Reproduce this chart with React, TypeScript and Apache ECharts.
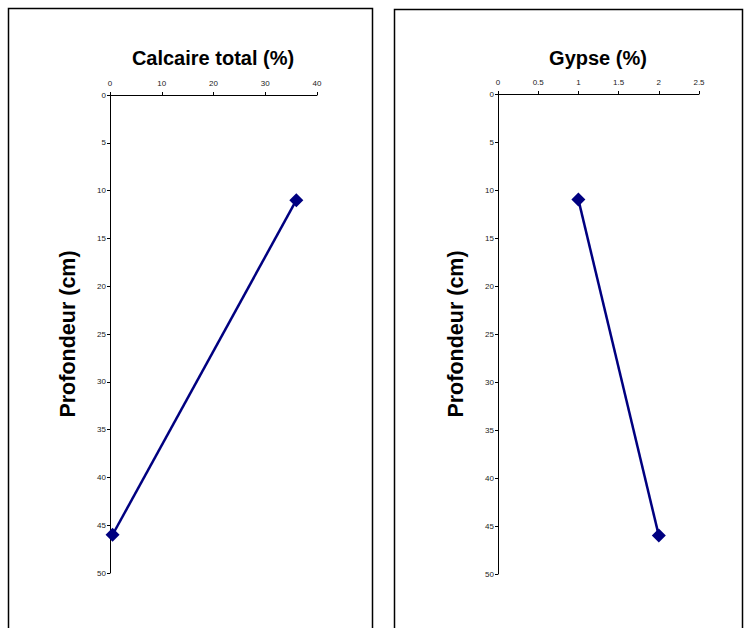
import React, { useEffect, useRef } from "react";
import * as echarts from "echarts";

const calcairePoints: [number, number][] = [
  [36, 11],
  [0.5, 46],
];
const gypsePoints: [number, number][] = [
  [1, 11],
  [2, 46],
];
const titles = ["Calcaire total (%)", "Gypse (%)"];
const yName = "Profondeur (cm)";

export default function App() {
  const ref = useRef<HTMLDivElement>(null);
  useEffect(() => {
    document.body.style.margin = "0";
    const chart = echarts.init(ref.current!, null, { renderer: "svg" });
    const font = "Liberation Sans, Arial, sans-serif";
    const xAxisCommon = {
      type: "value" as const,
      position: "top" as const,
      min: 0,
      axisLine: { show: true, lineStyle: { color: "#000", width: 1 } },
      axisTick: { show: true, length: 3, lineStyle: { color: "#000" } },
      axisLabel: { fontSize: 8, color: "#222", fontFamily: font, margin: 8 },
      splitLine: { show: false },
    };
    const yAxisCommon = {
      type: "value" as const,
      inverse: true,
      min: 0,
      max: 50,
      interval: 5,
      axisLine: { show: true, lineStyle: { color: "#000", width: 1 } },
      axisTick: { show: true, length: 3, lineStyle: { color: "#000" } },
      axisLabel: { fontSize: 8, color: "#222", fontFamily: font, margin: 4 },
      splitLine: { show: false },
      name: yName,
      nameLocation: "middle" as const,
      nameRotate: 90,
      nameGap: 31,
      nameTextStyle: { fontSize: 21.5, fontWeight: "bold" as const, color: "#000", fontFamily: font },
    };
    const seriesCommon = {
      type: "line" as const,
      symbol: "diamond",
      symbolSize: 14,
      lineStyle: { color: "#000080", width: 2.5 },
      itemStyle: { color: "#000080" },
    };
    chart.setOption({
      animation: false,
      grid: [
        { left: 110, top: 95, width: 207, height: 478 },
        { left: 498, top: 94, width: 201, height: 480 },
      ],
      xAxis: [
        { ...xAxisCommon, gridIndex: 0, max: 40, interval: 10 },
        { ...xAxisCommon, gridIndex: 1, max: 2.5, interval: 0.5 },
      ],
      yAxis: [
        { ...yAxisCommon, gridIndex: 0 },
        { ...yAxisCommon, gridIndex: 1 },
      ],
      series: [
        { ...seriesCommon, xAxisIndex: 0, yAxisIndex: 0, data: calcairePoints },
        { ...seriesCommon, xAxisIndex: 1, yAxisIndex: 1, data: gypsePoints },
      ],
      graphic: [
        { type: "rect", shape: { x: 8.5, y: 8.5, width: 364, height: 660 }, style: { fill: "none", stroke: "#000", lineWidth: 1.5 }, silent: true },
        { type: "rect", shape: { x: 394.5, y: 9.5, width: 348, height: 660 }, style: { fill: "none", stroke: "#000", lineWidth: 1.5 }, silent: true },
        { type: "text", x: 213, y: 58, style: { text: titles[0], fontSize: 20, fontWeight: "bold", fill: "#000", fontFamily: font, textAlign: "center", textVerticalAlign: "middle" } },
        { type: "text", x: 598, y: 58, style: { text: titles[1], fontSize: 20, fontWeight: "bold", fill: "#000", fontFamily: font, textAlign: "center", textVerticalAlign: "middle" } },
      ],
    });
    return () => chart.dispose();
  }, []);
  return <div ref={ref} style={{ width: 747, height: 628 }} />;
}
